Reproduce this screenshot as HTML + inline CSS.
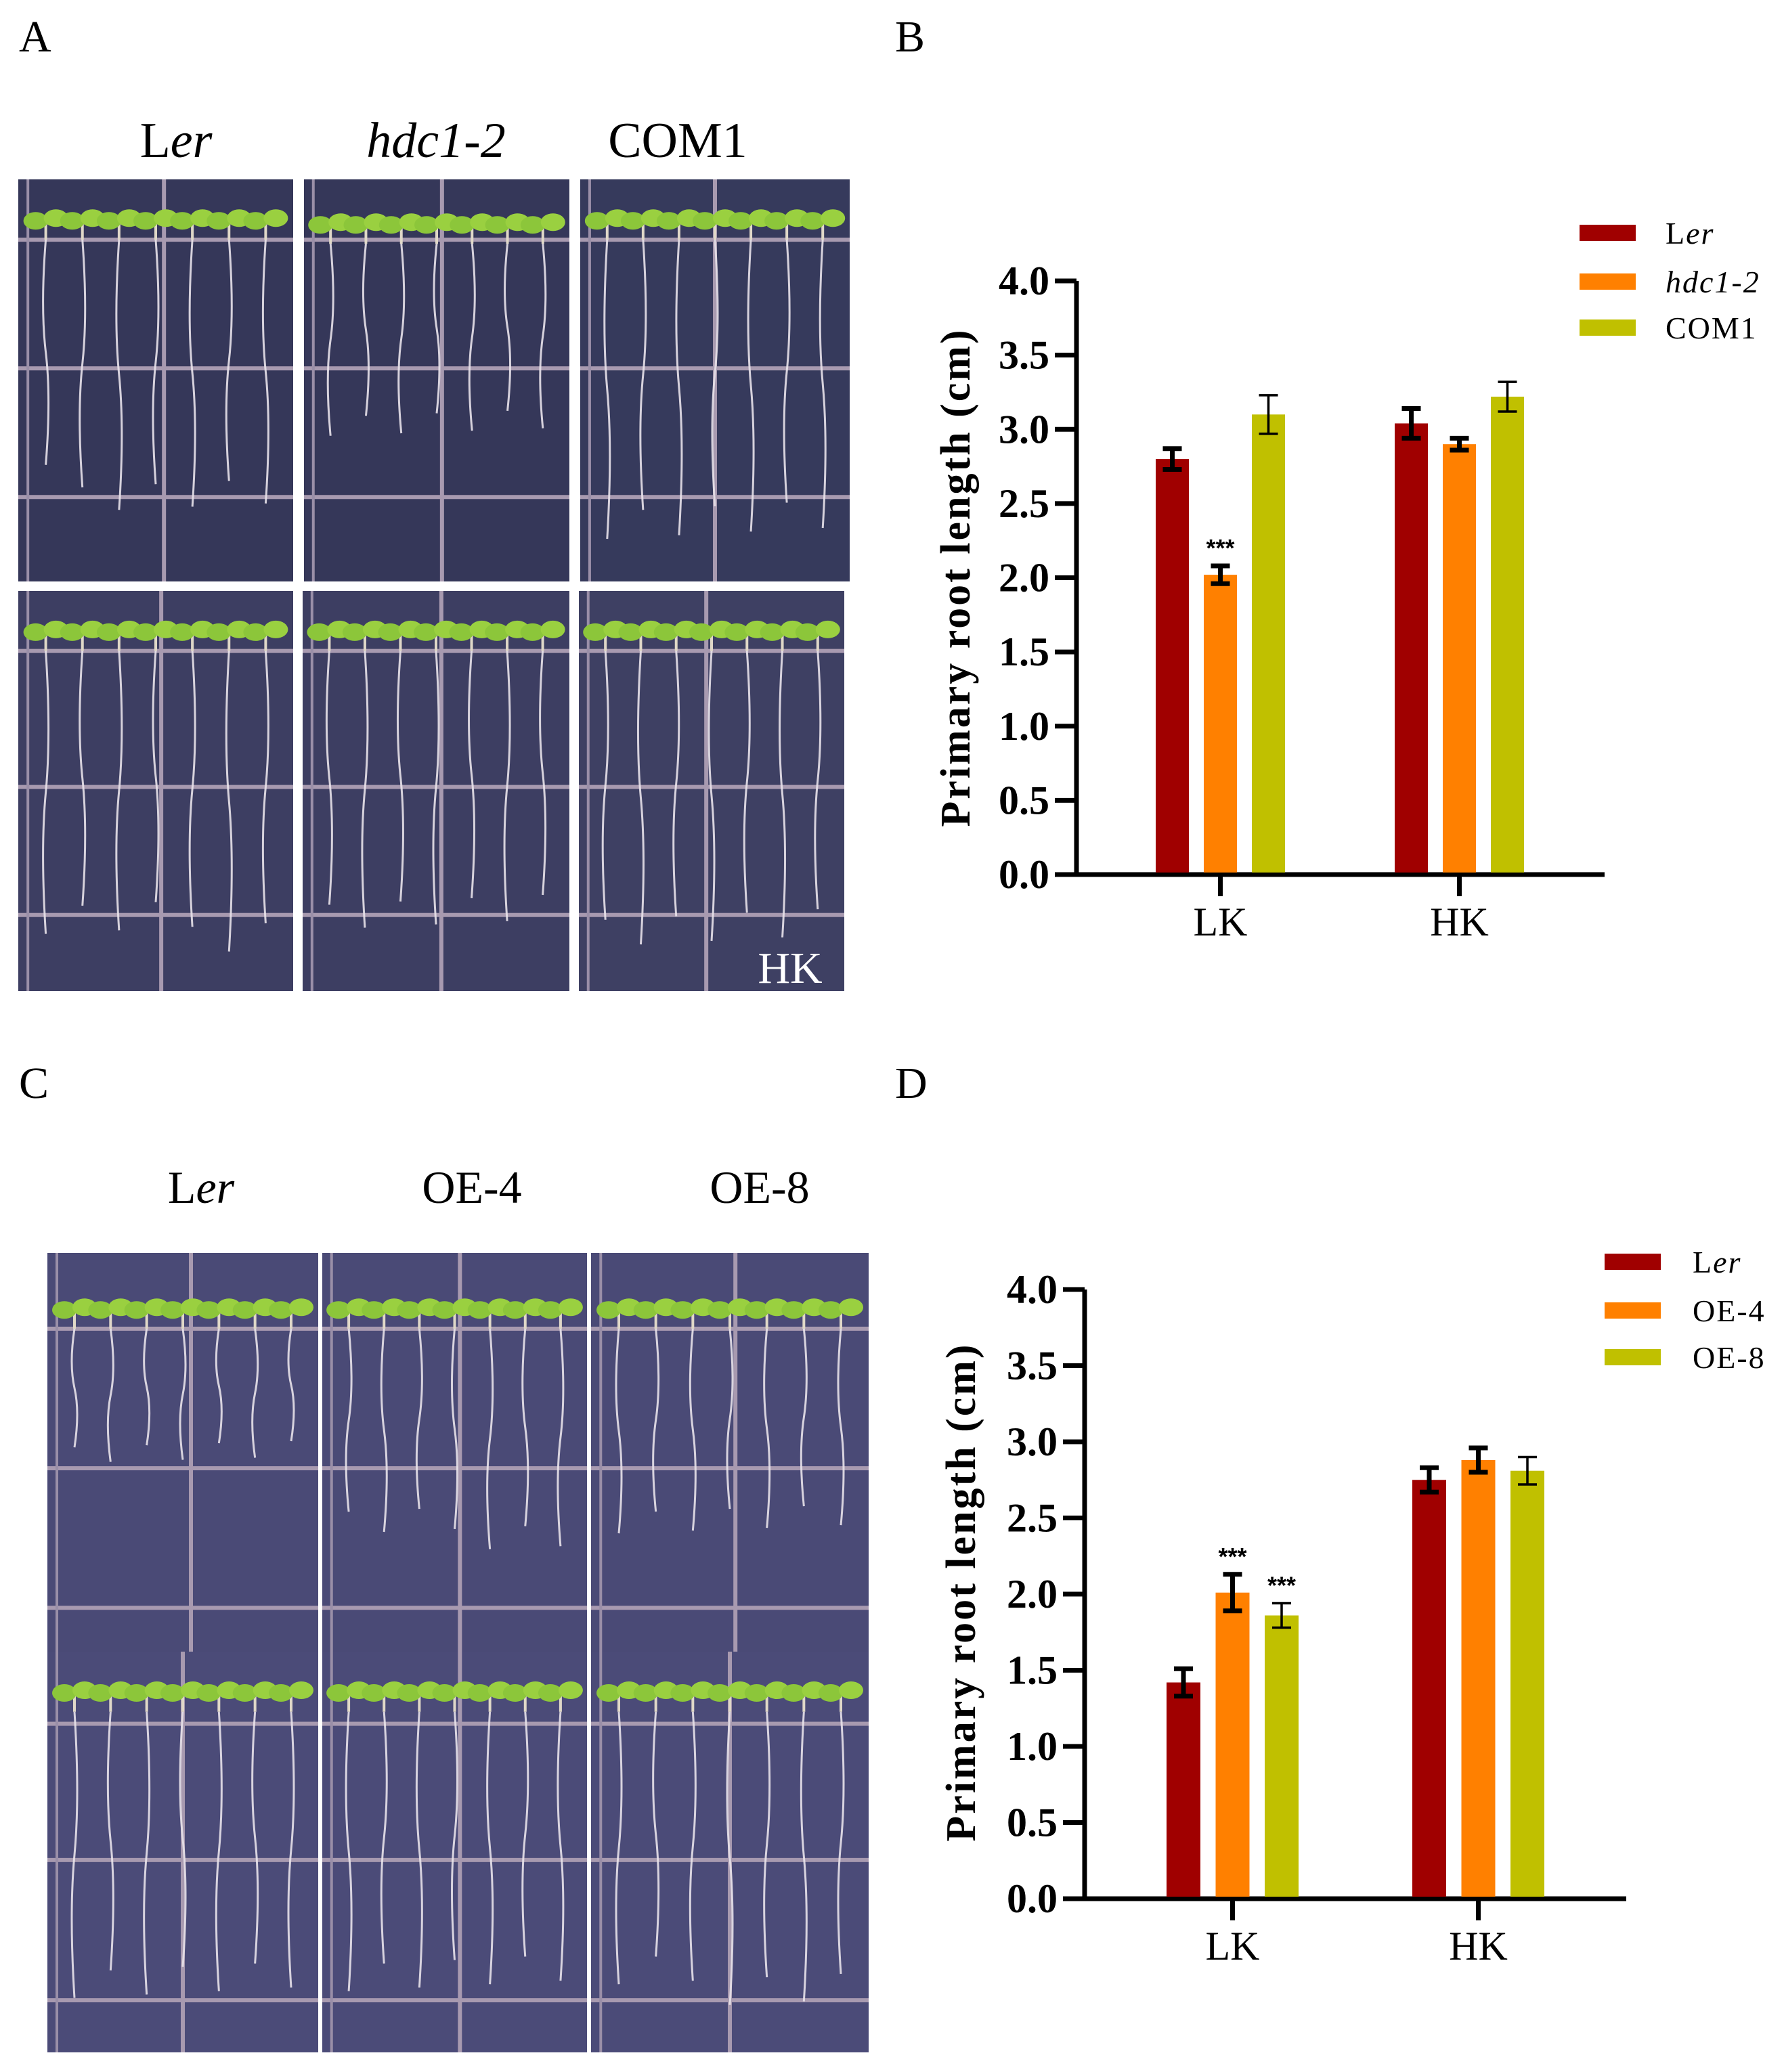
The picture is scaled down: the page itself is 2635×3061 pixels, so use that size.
<!DOCTYPE html>
<html><head><meta charset="utf-8">
<style>
html,body{margin:0;padding:0;background:#fff;}
body{width:2635px;height:3061px;position:relative;overflow:hidden;font-family:"Liberation Serif","Times New Roman",Times,serif;}
svg{position:absolute;left:0;top:0;}
svg text{font-family:"Liberation Serif","Times New Roman",Times,serif;}
svg text.sans{font-family:"Liberation Sans",Arial,sans-serif;}
</style></head>
<body>
<svg id="fig" width="2635" height="3061" xmlns="http://www.w3.org/2000/svg">
  <g fill="#000">
    <text x="28" y="76" font-size="66">A</text>
    <text x="1322" y="76" font-size="66">B</text>
    <text x="28" y="1622" font-size="66">C</text>
    <text x="1322" y="1622" font-size="66">D</text>

    <text x="260" y="232" font-size="74" text-anchor="middle">L<tspan font-style="italic">er</tspan></text>
    <text x="644" y="232" font-size="74" text-anchor="middle" font-style="italic">hdc1-2</text>
    <text x="1001" y="232" font-size="74" text-anchor="middle">COM1</text>

    <text x="297" y="1777" font-size="68" text-anchor="middle">L<tspan font-style="italic">er</tspan></text>
    <text x="697" y="1777" font-size="68" text-anchor="middle">OE-4</text>
    <text x="1122" y="1777" font-size="68" text-anchor="middle">OE-8</text>
  </g>
  <g id="photos"></g>
  <text x="1167" y="1452" font-size="66" fill="#fff" text-anchor="middle">HK</text>
  <g id="chartB"></g>
  <g id="chartD"></g>
</svg>
<script>
// ---- Chart B data ----
const catsB = ["LK", "HK"];
const seriesB = ["Ler", "hdc1-2", "COM1"];
const lerB = [2.80, 3.04];
const hdcB = [2.02, 2.90];
const comB = [3.10, 3.22];
const errLerB = [0.07, 0.10];
const errHdcB = [0.06, 0.04];
const errComB = [0.13, 0.10];
const sigB = [["", "***", ""], ["", "", ""]];
// ---- Chart D data ----
const catsD = ["LK", "HK"];
const seriesD = ["Ler", "OE-4", "OE-8"];
const lerD = [1.42, 2.75];
const oe4D = [2.01, 2.88];
const oe8D = [1.86, 2.81];
const errLerD = [0.09, 0.08];
const errOe4D = [0.12, 0.08];
const errOe8D = [0.08, 0.09];
const sigD = [["", "***", "***"], ["", "", ""]];
const yTicks = ["0.0","0.5","1.0","1.5","2.0","2.5","3.0","3.5","4.0"];

const NS = "http://www.w3.org/2000/svg";
const colors = ["#a00000", "#ff8000", "#c0c000"];
const errW = [7, 7, 3.5];

function mk(tag, attrs, parent){
  const e = document.createElementNS(NS, tag);
  for (const k in attrs) e.setAttribute(k, attrs[k]);
  parent.appendChild(e);
  return e;
}

function drawChart(g, cfg, cats, series, vals, errs, sigs){
  const y = v => cfg.y0 - (v / 4) * (cfg.y0 - cfg.y4);
  const x = (ci, si) => cfg.firstBar + ci * cfg.groupStep + si * cfg.barStep;
  const ya = mk("line", {x1: cfg.ax, y1: cfg.y4, x2: cfg.ax, y2: cfg.y0 + 3, stroke: "#000", "stroke-width": 7}, g);
  
  
  const xa = mk("line", {x1: cfg.ax - 32, y1: cfg.y0, x2: cfg.axEnd, y2: cfg.y0, stroke: "#000", "stroke-width": 7}, g);
  
  
  yTicks.forEach((t, i) => {
    const v = parseFloat(t);
    if (v > 0) {
      const tk = mk("line", {x1: cfg.ax - 32, y1: y(v), x2: cfg.ax, y2: y(v), stroke: "#000", "stroke-width": 7}, g);
      
      
    }
    const tl = mk("text", {x: cfg.ax - 40, y: y(v) + 20, "text-anchor": "end", "font-size": 60, "font-weight": "bold"}, g);
    tl.textContent = t;
    
    
  });
  cats.forEach((c, ci) => {
    const cx = x(ci, 1) + cfg.bw / 2;
    const tk = mk("line", {x1: cx, y1: cfg.y0, x2: cx, y2: cfg.y0 + 32, stroke: "#000", "stroke-width": 7}, g);
    
    
    const tl = mk("text", {x: cx, y: cfg.y0 + 90, "text-anchor": "middle", "font-size": 60}, g);
    tl.textContent = c;
    
    
    series.forEach((s, si) => {
      const v = vals[si][ci], e = errs[si][ci];
      const bx = x(ci, si);
      const r = mk("rect", {x: bx, y: y(v), width: cfg.bw, height: cfg.y0 - 3 - y(v), fill: colors[si]}, g);
      
      
      const mx = bx + cfg.bw / 2;
      const eb = mk("path", {d: `M${mx-14},${y(v+e)}H${mx+14}M${mx},${y(v+e)}V${y(v-e)}M${mx-14},${y(v-e)}H${mx+14}`, stroke: "#000", "stroke-width": errW[si], fill: "none"}, g);
      
      
      if (sigs[ci][si]) {
        const st = mk("text", {x: mx, y: y(v + e) - 14, "text-anchor": "middle", "font-size": 36, "class": "sans", "font-weight": "bold"}, g);
        st.textContent = sigs[ci][si];
        
        
      }
    });
  });
  const yt = mk("text", {x: 0, y: 0, transform: `translate(${cfg.titleX},${cfg.titleY}) rotate(-90)`, "text-anchor": "middle", "font-size": 62, "font-weight": "bold", "letter-spacing": "3"}, g);
  yt.textContent = "Primary root length (cm)";
  
  
  series.forEach((s, si) => {
    const ly = cfg.legY[si];
    const sw = mk("rect", {x: cfg.legX, y: ly - 12, width: 83, height: 24, fill: colors[si]}, g);
    
    
    const lt = mk("text", {x: cfg.legTX, y: ly + 16, "font-size": 46, "letter-spacing": "2"}, g);
    if (s === "Ler") {
      lt.appendChild(document.createTextNode("L"));
      const ts = mk("tspan", {"font-style": "italic"}, lt);
      ts.textContent = "er";
    } else {
      if (s.startsWith("hdc")) lt.setAttribute("font-style", "italic");
      lt.textContent = s;
    }
    
    
  });
}

drawChart(document.getElementById("chartB"),
  {ax: 1590, axEnd: 2370, y0: 1292, y4: 415, firstBar: 1707, groupStep: 353, barStep: 71, bw: 49,
   titleX: 1432, titleY: 853, legX: 2333, legTX: 2460, legY: [344, 416, 484]},
  catsB, seriesB, [lerB, hdcB, comB], [errLerB, errHdcB, errComB], sigB);

drawChart(document.getElementById("chartD"),
  {ax: 1602, axEnd: 2402, y0: 2805, y4: 1905, firstBar: 1723, groupStep: 363, barStep: 72.5, bw: 50,
   titleX: 1440, titleY: 2352, legX: 2370, legTX: 2500, legY: [1864, 1936, 2005]},
  catsD, seriesD, [lerD, oe4D, oe8D], [errLerD, errOe4D, errOe8D], sigD);

// ---- photo panels (illustrative) ----
const photos = [
  [27, 265, 406, 594, "#353759", 0.80, 0.12, [0.15,0.47,0.79], 0.53],
  [449, 265, 392, 594, "#353759", 0.62, 0.13, [0.15,0.47,0.79], 0.52],
  [857, 265, 398, 594, "#363a5c", 0.90, 0.12, [0.15,0.47,0.79], 0.50],
  [27, 873, 406, 591, "#3d3e62", 0.88, 0.12, [0.15,0.49,0.81], 0.52],
  [447, 873, 394, 591, "#3d3e62", 0.82, 0.12, [0.15,0.49,0.81], 0.52],
  [855, 873, 392, 591, "#3e4063", 0.88, 0.12, [0.15,0.49,0.81], 0.48],
  [70, 1851, 400, 589, "#4a4a76", 0.52, 0.16, [0.19,0.54,0.89], 0.53],
  [476, 1851, 391, 589, "#4a4a76", 0.72, 0.16, [0.19,0.54,0.89], 0.52],
  [873, 1851, 410, 589, "#4a4a76", 0.68, 0.16, [0.19,0.54,0.89], 0.52],
  [70, 2440, 400, 592, "#4b4b78", 0.86, 0.12, [0.18,0.52,0.87], 0.50],
  [476, 2440, 391, 592, "#4b4b78", 0.86, 0.12, [0.18,0.52,0.87], 0.52],
  [873, 2440, 410, 592, "#4b4b78", 0.86, 0.12, [0.18,0.52,0.87], 0.50]
];
const pg = document.getElementById("photos");
photos.forEach((p, pi) => {
  const [x, y, w, h, bg, rf, lf, hl, vl] = p;
  const g = mk("g", {}, pg);
  
  
  mk("rect", {x, y, width: w, height: h, fill: bg}, g);
  hl.forEach(f => mk("rect", {x, y: y + f*h - 3, width: w, height: 6, fill: "#a89ab0"}, g));
  mk("rect", {x: x + vl*w - 3, y, width: 6, height: h, fill: "#a89ab0"}, g);
  mk("rect", {x: x + 0.03*w, y, width: 4, height: h, fill: "#9a8fa8"}, g);
  const n = 7;
  for (let i = 0; i < n; i++) {
    const sx = x + w * (0.1 + i * 0.8 / (n - 1));
    const top = y + (lf + 0.03) * h;
    const len = rf * h * (0.85 + ((i * 37 + pi * 13) % 15) / 100) - lf * h;
    const wob = ((i + pi) % 2 ? 8 : -8);
    mk("path", {d: `M${sx},${top} q${wob},${len*0.3} 0,${len*0.5} t0,${len*0.5}`, stroke: "#e8e2ea", "stroke-width": 3, fill: "none", opacity: 0.9}, g);
    mk("path", {d: `M${sx},${top} V${y + lf*h - 8}`, stroke: "#e0d8c8", "stroke-width": 4}, g);
    mk("ellipse", {cx: sx - 15, cy: y + lf*h - 10, rx: 18, ry: 13, fill: "#8cc63a"}, g);
    mk("ellipse", {cx: sx + 15, cy: y + lf*h - 14, rx: 18, ry: 13, fill: "#9ad040"}, g);
  }
});
</script>
</body></html>
